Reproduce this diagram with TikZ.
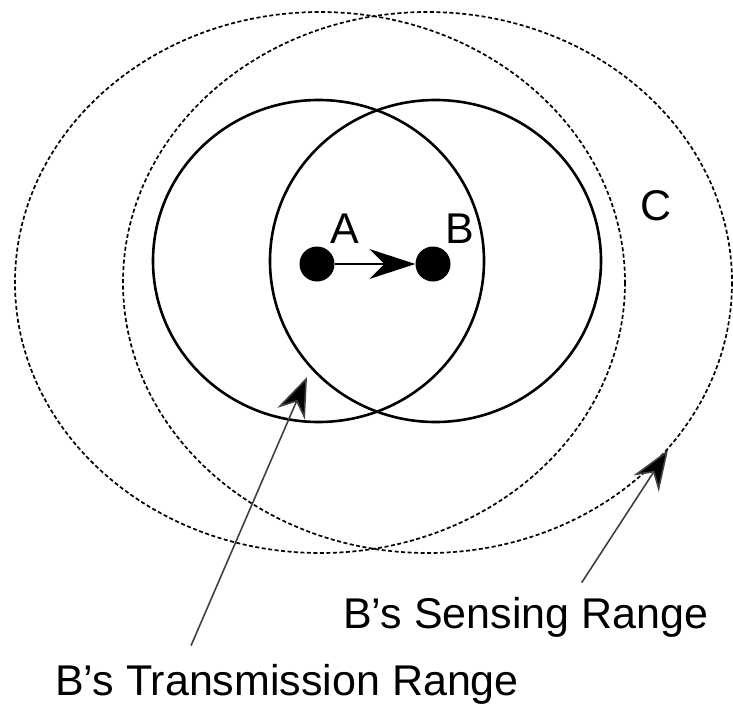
\documentclass[tikz,border=0pt]{standalone}
\usepackage{fontspec}
\setmainfont{Liberation Sans}
\usetikzlibrary{arrows.meta}

\begin{document}
\begin{tikzpicture}[x=1pt, y=-1pt,
  txrange/.style={line width=2.6pt},
  csrange/.style={line width=1.7pt, dash pattern=on 4pt off 2.5pt},
  station/.style={circle, fill=black, inner sep=0pt, minimum size=35pt},
  lbl/.style={inner sep=0pt, font=\fontsize{43}{50}\selectfont},
  move/.style={line width=1.6pt, -{Stealth[length=46pt, width=30pt, inset=15pt]}},
  pointer/.style={line width=1.6pt, draw=black!75, -{Stealth[length=40pt, width=30pt, inset=13pt, fill=black]}}]
\useasboundingbox (0,0) rectangle (733,706);
% sensing ranges
\draw[csrange] (320,282.5) ellipse [x radius=305, y radius=270.5];
\draw[csrange] (427.5,282.5) ellipse [x radius=304.5, y radius=270.5];
% transmission ranges
\draw[txrange] (318.5,261) ellipse [x radius=165.5, y radius=161];
\draw[txrange] (435.5,261) ellipse [x radius=165.5, y radius=161];
% stations
\node[station] (A) at (317,264) {};
\node[station] (B) at (433,264) {};
\draw[move] (A) -- (B);
\node[lbl] (labA) at (345,229) {A};
\node[lbl] (labB) at (460,229) {B};
\node[lbl] (labC) at (656,206) {C};
% captions
\node[lbl, anchor=base west] (sense) at (343,628) {B’s Sensing Range};
\node[lbl, anchor=base west] (trans) at (55,695) {B’s Transmission Range};
\coordinate (sensetip) at (668,450);
\coordinate (transtip) at (307,377);
\draw[pointer] ([xshift=56pt, yshift=14pt]sense.north) -- (sensetip);
\draw[pointer] ([xshift=-96pt, yshift=18pt]trans.north) -- (transtip);
\end{tikzpicture}
\end{document}
